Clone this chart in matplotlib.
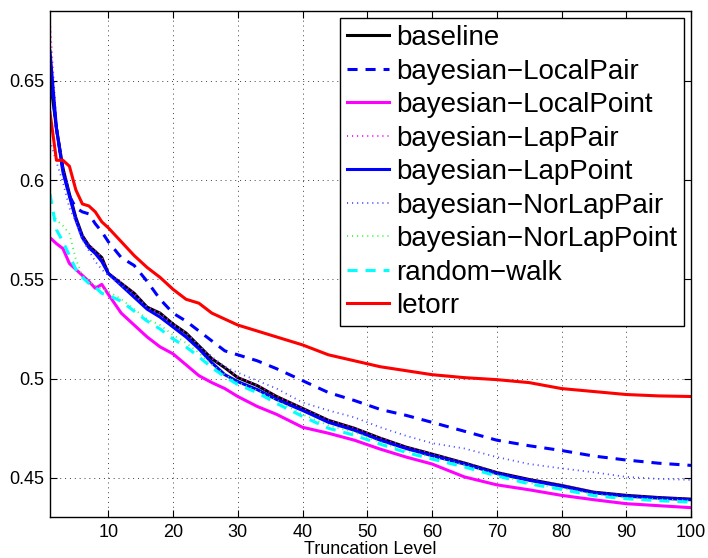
import matplotlib
matplotlib.use('Agg')
import matplotlib.pyplot as plt

levels = [1, 2, 3, 4, 5, 6, 7, 8, 9, 10, 12, 14, 16, 18, 20, 22, 24, 26, 28, 30,
          33, 36, 40, 44, 48, 52, 56, 60, 65, 70, 75, 80, 85, 90, 95, 100]

baseline = [0.652, 0.626, 0.606, 0.593, 0.581, 0.572, 0.567, 0.564, 0.561, 0.553,
            0.548, 0.543, 0.536, 0.533, 0.5275, 0.523, 0.5165, 0.510, 0.5055, 0.5005,
            0.4965, 0.491, 0.485, 0.479, 0.475, 0.470, 0.4655, 0.462, 0.4575, 0.4527,
            0.4492, 0.4462, 0.4428, 0.4412, 0.4401, 0.4393]
local_pair = [0.655, 0.626, 0.605, 0.592, 0.586, 0.584, 0.583, 0.578, 0.574, 0.569,
              0.561, 0.557, 0.549, 0.540, 0.533, 0.529, 0.524, 0.519, 0.514, 0.512,
              0.509, 0.505, 0.499, 0.493, 0.489, 0.4845, 0.4815, 0.478, 0.4735, 0.469,
              0.4662, 0.4638, 0.461, 0.459, 0.4574, 0.4563]
local_point = [0.571, 0.568, 0.5655, 0.558, 0.555, 0.552, 0.549, 0.5455, 0.5475, 0.5425,
               0.533, 0.527, 0.521, 0.516, 0.5125, 0.507, 0.5015, 0.498, 0.495, 0.491,
               0.486, 0.482, 0.4755, 0.4725, 0.469, 0.4645, 0.4605, 0.457, 0.4505, 0.4465,
               0.444, 0.4412, 0.439, 0.437, 0.436, 0.435]
lap_pair = [0.680, 0.628, 0.607, 0.5935, 0.5815, 0.5725, 0.5675, 0.5645, 0.5612, 0.5535,
            0.5483, 0.5433, 0.5362, 0.5332, 0.5277, 0.5232, 0.5167, 0.5102, 0.5057, 0.5007,
            0.4967, 0.4912, 0.4852, 0.4792, 0.4752, 0.4702, 0.4657, 0.4622, 0.4577, 0.4529,
            0.4494, 0.4464, 0.443, 0.4414, 0.4403, 0.4395]
lap_point = [0.665, 0.626, 0.604, 0.592, 0.580, 0.571, 0.566, 0.563, 0.559, 0.553,
             0.547, 0.541, 0.535, 0.531, 0.526, 0.521, 0.515, 0.508, 0.502, 0.4985,
             0.4945, 0.4895, 0.484, 0.478, 0.474, 0.469, 0.4648, 0.4612, 0.457, 0.4522,
             0.4488, 0.4458, 0.4425, 0.4408, 0.4398, 0.4390]
norlap_pair = [0.620, 0.609, 0.599, 0.586, 0.579, 0.570, 0.5645, 0.559, 0.555, 0.552,
               0.547, 0.542, 0.536, 0.532, 0.527, 0.523, 0.517, 0.511, 0.506, 0.503,
               0.499, 0.495, 0.488, 0.484, 0.4805, 0.4755, 0.4712, 0.4675, 0.4648, 0.4605,
               0.457, 0.4548, 0.4528, 0.4505, 0.4495, 0.4490]
norlap_point = [0.585, 0.580, 0.577, 0.573, 0.560, 0.552, 0.549, 0.547, 0.545, 0.544,
                0.540, 0.535, 0.530, 0.527, 0.522, 0.518, 0.513, 0.507, 0.502, 0.498,
                0.494, 0.489, 0.482, 0.4765, 0.473, 0.468, 0.4635, 0.4605, 0.4565, 0.4515,
                0.4475, 0.4448, 0.4418, 0.440, 0.4392, 0.4385]
random_walk = [0.593, 0.575, 0.569, 0.562, 0.555, 0.551, 0.548, 0.546, 0.543, 0.542,
               0.539, 0.534, 0.529, 0.525, 0.520, 0.516, 0.511, 0.5055, 0.501, 0.497,
               0.493, 0.4875, 0.481, 0.475, 0.4715, 0.467, 0.4628, 0.4595, 0.4555, 0.451,
               0.447, 0.4442, 0.441, 0.4395, 0.4385, 0.4378]
letorr = [0.634, 0.610, 0.610, 0.607, 0.595, 0.588, 0.587, 0.584, 0.579, 0.576,
          0.569, 0.562, 0.556, 0.551, 0.545, 0.540, 0.538, 0.533, 0.530, 0.527,
          0.524, 0.521, 0.517, 0.512, 0.509, 0.506, 0.504, 0.502, 0.5005, 0.4995,
          0.498, 0.495, 0.4935, 0.492, 0.4913, 0.491]

x_ticks = [10, 20, 30, 40, 50, 60, 70, 80, 90, 100]
y_ticks = [0.45, 0.5, 0.55, 0.6, 0.65]

plt.rcParams['font.family'] = ['Liberation Sans', 'DejaVu Sans']

dash = (0, (3.3, 2.6))
dot = (0, (0.6, 2.2))
series = [
    ('baseline', baseline, 'k', '-', 2.2),
    ('bayesian\u2212LocalPair', local_pair, (0, 0, 1), dash, 2.2),
    ('bayesian\u2212LocalPoint', local_point, (1, 0, 1), '-', 2.2),
    ('bayesian\u2212LapPair', lap_pair, (1, 0, 1), dot, 1.3),
    ('bayesian\u2212LapPoint', lap_point, (0, 0, 1), '-', 2.2),
    ('bayesian\u2212NorLapPair', norlap_pair, (0.3, 0.3, 1), dot, 1.3),
    ('bayesian\u2212NorLapPoint', norlap_point, (0.2, 1, 0.2), dot, 1.3),
    ('random\u2212walk', random_walk, (0, 1, 1), dash, 2.2),
    ('letorr', letorr, (1, 0, 0), '-', 2.2),
]

fig = plt.figure(figsize=(7.08, 5.58), dpi=100)
ax = fig.add_axes([50 / 708, 41 / 558, 641 / 708, 506 / 558])

for name, vals, color, ls, lw in series:
    ax.plot(levels, vals, color=color, linestyle=ls, linewidth=lw, label=name)

ax.set_xlim(1, 100)
ax.set_ylim(0.4303, 0.6852)
ax.set_xticks(x_ticks)
ax.set_yticks(y_ticks)
ax.set_yticklabels(['0.45', '0.5', '0.55', '0.6', '0.65'])
ax.tick_params(direction='in', length=5, width=0.8, top=True, right=True,
               labelsize=13, pad=5)
ax.tick_params(axis='y', pad=4)
ax.grid(True, color='0.25', linestyle=(0, (1, 4)), linewidth=0.7)
for sp in ax.spines.values():
    sp.set_linewidth(1.0)

ax.set_xlabel('Truncation Level', fontsize=13, labelpad=0)

leg = ax.legend(loc='upper right', bbox_to_anchor=(0.989, 0.986), borderaxespad=0,
                fontsize=20, fancybox=False, framealpha=1, edgecolor='k',
                handlelength=1.5, handletextpad=0.25, borderpad=0.25, labelspacing=0.27)
leg.get_frame().set_linewidth(1.0)

fig.savefig('out.png', dpi=100)
